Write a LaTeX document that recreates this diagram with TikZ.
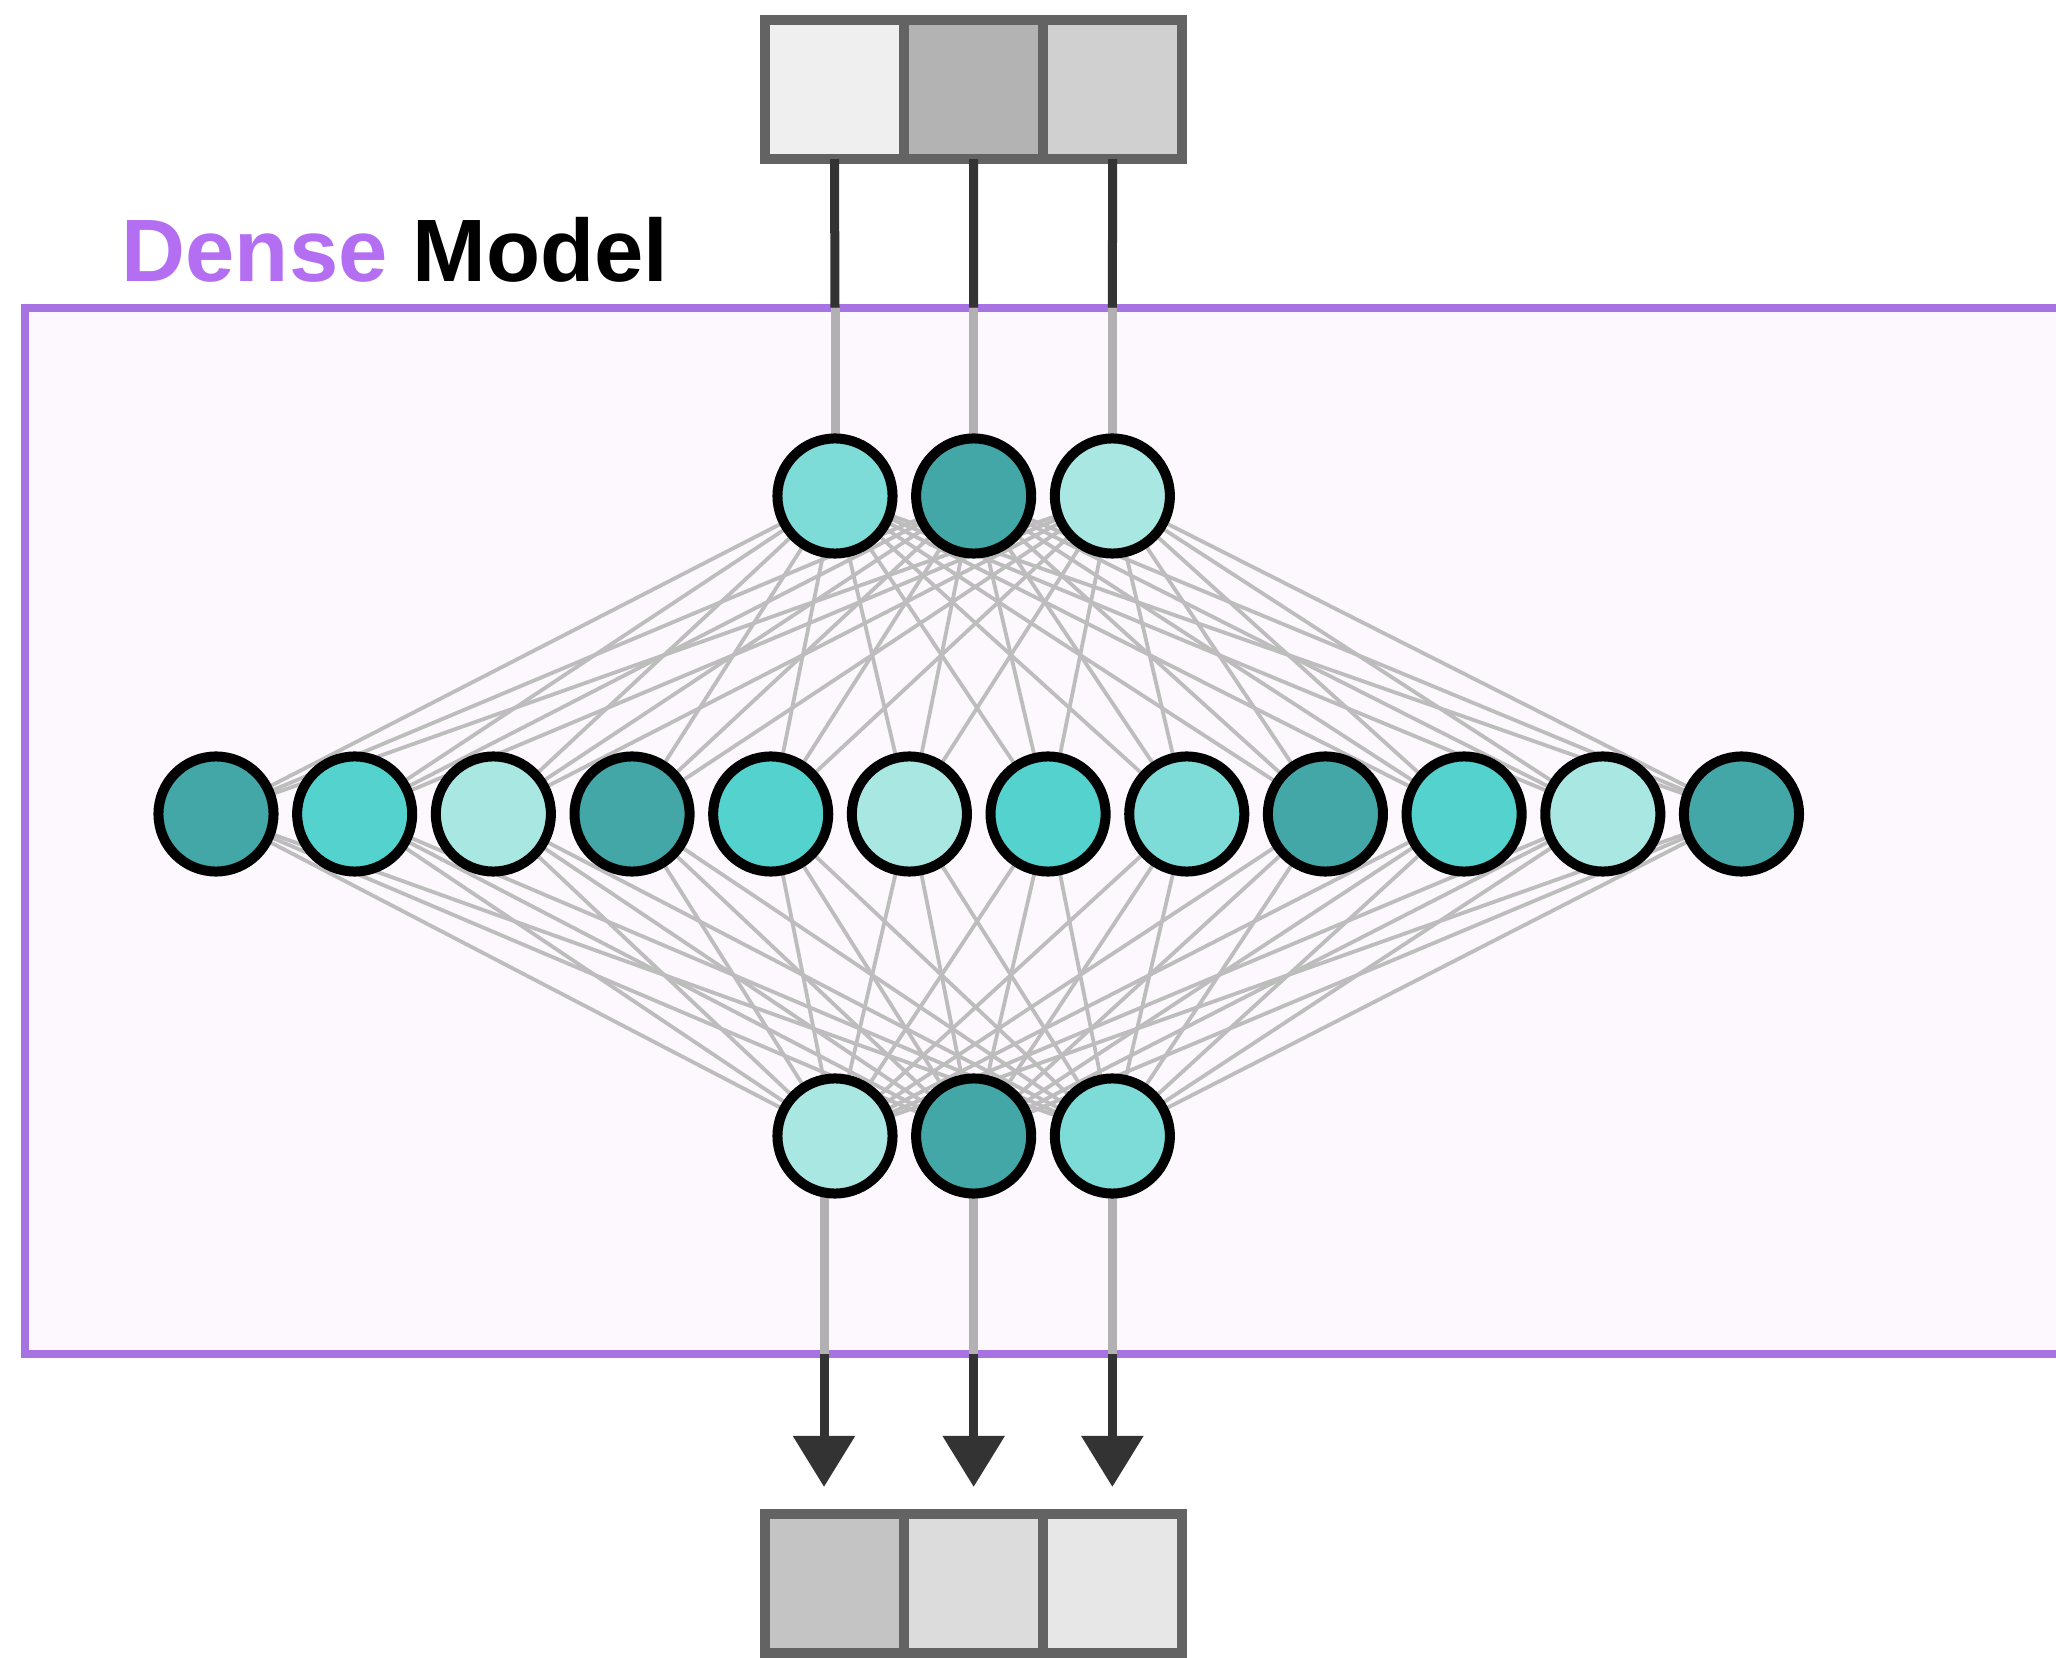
\documentclass[tikz,border=0pt]{standalone}
\usepackage{fontspec}
\setmainfont{Liberation Sans}
\usepackage{tikz}
\usetikzlibrary{arrows.meta,positioning}
\usepackage{color}

\definecolor{tdark}{HTML}{44A7A7}
\definecolor{tcyan}{HTML}{54D2CE}
\definecolor{tmid}{HTML}{7EDCD8}
\definecolor{tlight}{HTML}{A9E7E3}
\definecolor{boxgray}{HTML}{636363}
\definecolor{inA}{HTML}{EFEFEF}
\definecolor{inB}{HTML}{B3B3B3}
\definecolor{inC}{HTML}{D0D0D0}
\definecolor{outA}{HTML}{C4C4C4}
\definecolor{outB}{HTML}{DCDCDC}
\definecolor{outC}{HTML}{E7E7E7}
\definecolor{darkline}{HTML}{333333}
\definecolor{lightline}{HTML}{B3B0B3}
\definecolor{fangray}{HTML}{BDBDBD}
\definecolor{framepurple}{HTML}{A772E2}
\definecolor{framefill}{HTML}{FCF8FD}
\definecolor{densepurple}{HTML}{B46EF2}

\pgfdeclarelayer{background}
\pgfdeclarelayer{edges}
\pgfsetlayers{background,edges,main}

\begin{document}
\begin{tikzpicture}[x=0.01cm, y=-0.01cm, node distance={13.86mm},
  main/.style={circle, draw=black, line width=0.1cm, minimum size=1.15cm, inner sep=0pt, outer sep=0pt},
  cell/.style={rectangle, draw=boxgray, line width=0.1cm, minimum size=1.39cm, inner sep=0pt, outer sep=0pt},
  wire/.style={line width=0.09cm},
  fan/.style={draw=fangray, line width=0.038cm},
  ar/.style={wire, draw=darkline, fill=darkline, -{Triangle[width=0.6cm, length=0.51cm]}, shorten >=0.27cm}]
  \useasboundingbox (0,0) rectangle (2056,1658);
  \clip (0,0) rectangle (2056,1658);

  % model frame
  \begin{pgfonlayer}{background}
    \node[draw=framepurple, fill=framefill, line width=0.08cm, outer sep=0pt, minimum width=20.74cm, minimum height=10.46cm] (model) at (1063,831) {};
  \end{pgfonlayer}
  \node[anchor=base west, inner sep=0pt, font=\bfseries\fontsize{25.2}{30}\selectfont] (title) at (121,282) {\textcolor{densepurple}{Dense} Model};

  % input
  \node[cell, fill=inA] (x1) at (834.5,89.5) {};
  \node[cell, fill=inB, right=0pt of x1] (x2) {};
  \node[cell, fill=inC, right=0pt of x2] (x3) {};

  \node[main, fill=tmid] (t1) at (835,496) {};
  \node[main, fill=tdark] (t2) [right of=t1] {};
  \node[main, fill=tlight] (t3) [right of=t2] {};

  \node[main, fill=tdark] (m1) at (216,814) {};
  \node[main, fill=tcyan] (m2) [right of=m1] {};
  \node[main, fill=tlight] (m3) [right of=m2] {};
  \node[main, fill=tdark] (m4) [right of=m3] {};
  \node[main, fill=tcyan] (m5) [right of=m4] {};
  \node[main, fill=tlight] (m6) [right of=m5] {};
  \node[main, fill=tcyan] (m7) [right of=m6] {};
  \node[main, fill=tmid] (m8) [right of=m7] {};
  \node[main, fill=tdark] (m9) [right of=m8] {};
  \node[main, fill=tcyan] (m10) [right of=m9] {};
  \node[main, fill=tlight] (m11) [right of=m10] {};
  \node[main, fill=tdark] (m12) [right of=m11] {};

  \node[main, fill=tlight] (b1) at (835,1136) {};
  \node[main, fill=tdark] (b2) [right of=b1] {};
  \node[main, fill=tmid] (b3) [right of=b2] {};

  % output
  \node[cell, fill=outA] (y1) at (834.5,1583.5) {};
  \node[cell, fill=outB, right=0pt of y1] (y2) {};
  \node[cell, fill=outC, right=0pt of y2] (y3) {};

  \begin{pgfonlayer}{edges}
    \foreach \i in {1,2,3}
      \foreach \j in {1,...,12} {
        \draw[fan] (t\i.center) -- (m\j.center);
        \draw[fan] (m\j.center) -- (b\i.center);
      }
    \foreach \i in {1,2,3}
      \draw[wire, draw=lightline] (t\i |- model.north) -- (t\i.north);
    \foreach \i/\dx in {1/-11,2/0,3/0}
      \draw[wire, draw=lightline] ([xshift=\dx*0.01cm]b\i.south) -- ([xshift=\dx*0.01cm]b\i.south |- model.south);
  \end{pgfonlayer}

  \foreach \i in {1,2,3}
    \draw[wire, draw=darkline] (x\i.south) -- (t\i |- model.north);
  \foreach \i/\dx in {1/-11,2/0,3/0}
    \draw[ar] ([xshift=\dx*0.01cm]b\i.south |- model.south) -- ([xshift=\dx*0.01cm]b\i.south |- y\i.north);
\end{tikzpicture}
\end{document}
